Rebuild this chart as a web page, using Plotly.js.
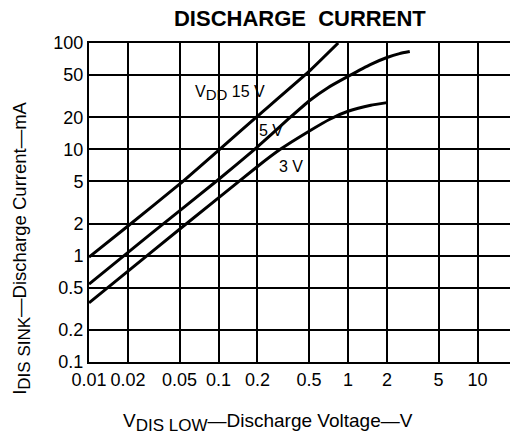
<!DOCTYPE html>
<html>
<head>
<meta charset="utf-8">
<script src="https://cdn.plot.ly/plotly-3.0.1.min.js"></script>
<style>html,body{margin:0;padding:0;background:#fff;}#chart{width:510px;height:435px;}</style>
</head>
<body>
<div id="chart"></div>
<script>
// Discharge voltage (V) and discharge current (mA) per supply voltage
const x15 = [0.01, 0.02, 0.05, 0.1, 0.2, 0.5, 0.84];
const y15 = [0.97, 1.9, 4.7, 9.8, 20.5, 54, 100];

const x5 = [0.01, 0.03, 0.1, 0.19, 0.35, 0.5, 0.7, 1.0, 1.5, 2.0, 2.5, 3.0];
const y5 = [0.54, 1.6, 5.2, 10, 19.5, 28.5, 38, 48.5, 63, 73, 79.5, 83];

const x3 = [0.01, 0.03, 0.1, 0.2, 0.3, 0.5, 0.73, 1.0, 1.5, 2.0];
const y3 = [0.36, 1.07, 3.5, 6.9, 10, 14.8, 19.3, 22.8, 26, 27.5];

const curveLabels = ['V<sub><span style="font-size:15px">DD</span></sub> 15 V', '5 V', '3 V'];
const labelX = [0.063, 0.2, 0.283];
const labelY = [34, 15, 6.9];

const xTickVals = [0.01, 0.02, 0.05, 0.1, 0.2, 0.5, 1, 2, 5, 10];
const xTickText = ['0.01', '0.02', '0.05', '0.1', '0.2', '0.5', '1', '2', '5', '10'];
const yTickVals = [0.1, 0.2, 0.5, 1, 2, 5, 10, 20, 50, 100];
const yTickText = ['0.1', '0.2', '0.5', '1', '2', '5', '10', '20', '50', '100'];

const xTitle = 'V<sub><span style="font-size:17px">DIS LOW</span></sub>—Discharge Voltage—V';
const yTitle = 'I<sub><span style="font-size:17px">DIS SINK</span></sub>—Discharge Current—mA';

const lineStyle = {color: '#000', width: 3, shape: 'spline', smoothing: 0.4};
const traces = [
  {x: x15, y: y15, mode: 'lines', line: lineStyle, hoverinfo: 'skip'},
  {x: x5, y: y5, mode: 'lines', line: lineStyle, hoverinfo: 'skip'},
  {x: x3, y: y3, mode: 'lines', line: lineStyle, hoverinfo: 'skip'}
];

const font = {family: 'Liberation Sans, Arial, sans-serif', color: '#000'};
const annotations = curveLabels.map((t, i) => ({
  x: Math.log10(labelX[i]), y: Math.log10(labelY[i]), xref: 'x', yref: 'y',
  text: t, showarrow: false, xanchor: 'left', yanchor: 'middle',
  font: Object.assign({}, font, {size: 16})
}));
annotations.push({
  text: xTitle, xref: 'paper', yref: 'paper', x: 0.425, y: -0.19,
  xanchor: 'center', yanchor: 'middle', showarrow: false,
  font: Object.assign({}, font, {size: 19})
});
annotations.push({
  text: yTitle, xref: 'paper', yref: 'paper', x: -0.159, y: 0.355,
  xanchor: 'center', yanchor: 'middle', showarrow: false, textangle: -90,
  font: Object.assign({}, font, {size: 18.5})
});

const layout = {
  width: 510, height: 435,
  margin: {l: 89, r: 0, t: 43, b: 73},
  paper_bgcolor: '#fff', plot_bgcolor: '#fff',
  showlegend: false,
  font: Object.assign({}, font, {size: 17}),
  title: {text: '<b>DISCHARGE  CURRENT</b>', x: 0.588, xanchor: 'center', y: 0.958, yanchor: 'middle',
          font: Object.assign({}, font, {size: 22})},
  xaxis: {
    type: 'log', range: [-2, 1.251], tickvals: xTickVals, ticktext: xTickText,
    showgrid: true, gridcolor: '#000', gridwidth: 2,
    showline: true, linecolor: '#000', linewidth: 2, mirror: true,
    ticks: '', ticklen: 0, zeroline: false,
    tickfont: Object.assign({}, font, {size: 18})
  },
  yaxis: {
    type: 'log', range: [-1, 2], tickvals: yTickVals, ticktext: yTickText,
    showgrid: true, gridcolor: '#000', gridwidth: 2,
    showline: true, linecolor: '#000', linewidth: 2, mirror: false,
    ticks: '', ticklen: 0, zeroline: false,
    tickfont: Object.assign({}, font, {size: 18})
  },
  annotations: annotations
};

Plotly.newPlot('chart', traces, layout, {displayModeBar: false, staticPlot: true});
</script>
</body>
</html>
